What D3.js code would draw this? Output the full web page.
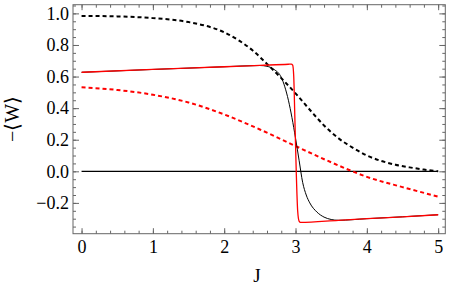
<!DOCTYPE html>
<meta charset="utf-8">
<style>
body { margin: 0; background: #fff; }
.tick line { stroke: #666; }
.frame { fill: none; stroke: #666; stroke-width: 1px; }
</style>
<body>
<script src="https://d3js.org/d3.v7.min.js"></script>
<script>
// values
var jBlackDash = [0, 0.5, 1, 1.5, 2, 2.2, 2.4, 2.6, 2.8, 3.0, 3.2, 3.4, 3.6, 3.8, 4.0, 4.2, 4.4, 4.6, 4.8, 5.0];
var wBlackDash = [0.984, 0.981, 0.970, 0.945, 0.88, 0.83, 0.765, 0.68, 0.59, 0.494, 0.39, 0.29, 0.21, 0.15, 0.10, 0.066, 0.042, 0.025, 0.011, 0.0];

var jRedDash = [0, 0.5, 1, 1.5, 2, 2.5, 3, 3.5, 4, 4.5, 5];
var wRedDash = [0.532, 0.515, 0.485, 0.436, 0.36, 0.265, 0.16, 0.057, -0.035, -0.10, -0.16];

var jRed = [0, 1, 2, 2.5, 2.9, 2.94, 2.96, 2.975, 2.99, 3.01, 3.03, 3.05, 3.07, 3.6, 4, 4.5, 5];
var wRed = [0.627, 0.645, 0.662, 0.671, 0.678, 0.679, 0.672, 0.60, 0.35, 0.0, -0.25, -0.315, -0.323, -0.31, -0.30, -0.288, -0.275];

var jBlack = [0, 1, 2, 2.5, 2.6, 2.7, 2.8, 2.85, 2.9, 2.95, 3.0, 3.05, 3.1, 3.15, 3.2, 3.3, 3.4, 3.5, 3.6, 4, 4.5, 5];
var wBlack = [0.627, 0.645, 0.662, 0.670, 0.665, 0.645, 0.595, 0.535, 0.45, 0.34, 0.21, 0.07, -0.07, -0.15, -0.2, -0.258, -0.29, -0.305, -0.31, -0.30, -0.288, -0.275];

var jZero = [0, 5];
var wZero = [0, 0];

var xMajor = [0, 1, 2, 3, 4, 5];
var yMajor = [-0.2, 0, 0.2, 0.4, 0.6, 0.8, 1.0];

var width = 450, height = 291;
var mLeft = 73, mRight = 445.3, mTop = 4.7, mBottom = 233.7;
var serif = "'Liberation Serif', 'Times New Roman', serif";

var svg = d3.select("body").append("svg")
    .attr("width", width)
    .attr("height", height);

var x = d3.scaleLinear().domain([-0.12, 5.1]).range([mLeft, mRight]);
var y = d3.scaleLinear().domain([-0.395, 1.055]).range([mBottom, mTop]);

var xMinor = d3.range(0, 5.01, 0.2);
var yMinor = d3.range(-0.35, 1.06, 0.05);

function fmtY(d) { return d < 0 ? "\u2212" + (-d).toFixed(1) : d.toFixed(1); }

// minor ticks on all sides
svg.append("g").attr("transform", "translate(0," + mBottom + ")")
    .call(d3.axisBottom(x).tickValues(xMinor).tickSize(-3).tickFormat(""));
svg.append("g").attr("transform", "translate(0," + mTop + ")")
    .call(d3.axisTop(x).tickValues(xMinor).tickSize(-3).tickFormat(""));
svg.append("g").attr("transform", "translate(" + mLeft + ",0)")
    .call(d3.axisLeft(y).tickValues(yMinor).tickSize(-3).tickFormat(""));
svg.append("g").attr("transform", "translate(" + mRight + ",0)")
    .call(d3.axisRight(y).tickValues(yMinor).tickSize(-3).tickFormat(""));

// major ticks
svg.append("g").attr("transform", "translate(0," + mBottom + ")")
    .call(d3.axisBottom(x).tickValues(xMajor).tickSize(-5.5).tickPadding(7).tickFormat(d3.format("d")));
svg.append("g").attr("transform", "translate(0," + mTop + ")")
    .call(d3.axisTop(x).tickValues(xMajor).tickSize(-5.5).tickFormat(""));
svg.append("g").attr("transform", "translate(" + mLeft + ",0)")
    .call(d3.axisLeft(y).tickValues(yMajor).tickSize(-6).tickPadding(4).tickFormat(fmtY));
svg.append("g").attr("transform", "translate(" + mRight + ",0)")
    .call(d3.axisRight(y).tickValues(yMajor).tickSize(-6).tickFormat(""));

svg.selectAll(".domain").remove();
svg.selectAll(".tick text")
    .attr("fill", "#000")
    .attr("style", "font-family:" + serif + ";font-size:18px");

svg.append("rect").attr("class", "frame")
    .attr("x", mLeft).attr("y", mTop)
    .attr("width", mRight - mLeft).attr("height", mBottom - mTop);

var line = d3.line()
    .x(function(d) { return x(d[0]); })
    .y(function(d) { return y(d[1]); })
    .curve(d3.curveMonotoneX);

function draw(js, ws, color, w, dash) {
    var p = svg.append("path")
        .datum(d3.zip(js, ws))
        .attr("d", line)
        .attr("fill", "none")
        .attr("stroke", color)
        .attr("stroke-width", w);
    if (dash) p.attr("stroke-dasharray", dash);
}

draw(jZero, wZero, "#000", 1.2);
draw(jBlackDash, wBlackDash, "#000", 2, "4,3");
draw(jRedDash, wRedDash, "#f00", 2, "4,3");
draw(jBlack, wBlack, "#000", 1);
draw(jRed, wRed, "#f00", 1.3);

svg.append("text")
    .attr("x", 257).attr("y", 282)
    .attr("text-anchor", "middle")
    .attr("style", "font-family:" + serif + ";font-size:19px")
    .text("J");

svg.append("text")
    .attr("transform", "translate(19,119) rotate(-90)")
    .attr("text-anchor", "middle")
    .attr("style", "font-family:" + serif + ";font-size:20px")
    .text("\u2212\u27E8W\u27E9");
</script>
</body>
